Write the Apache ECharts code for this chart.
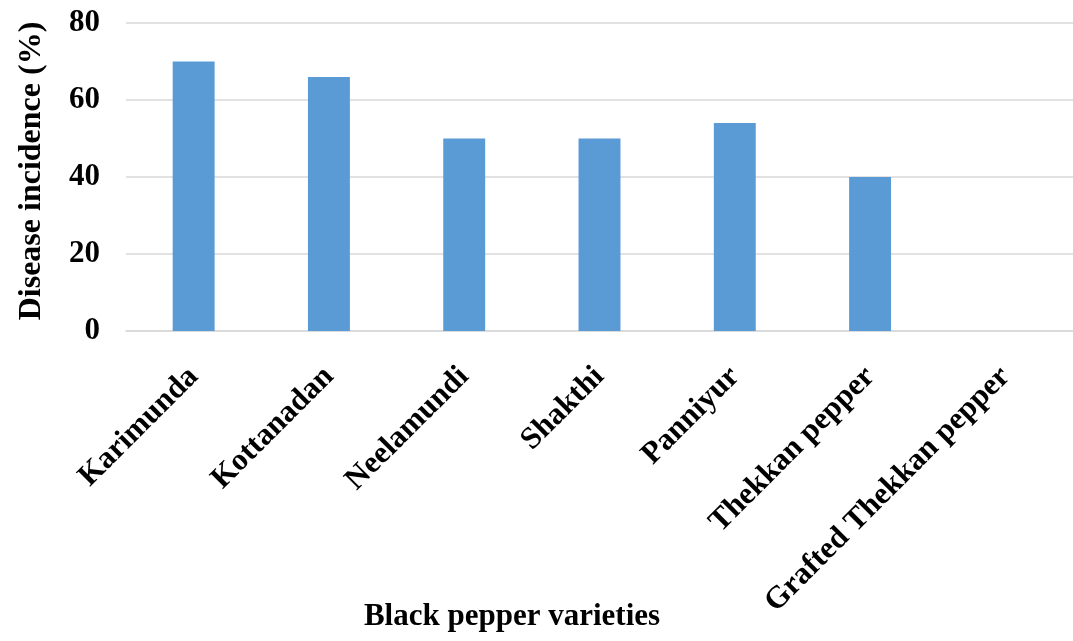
<!DOCTYPE html>
<html>
<head>
<meta charset="utf-8">
<script src="https://cdn.jsdelivr.net/npm/echarts@6/dist/echarts.min.js"></script>
<style>
  html, body { margin: 0; padding: 0; background: #ffffff; }
  #chart { width: 1073px; height: 641px; }
</style>
</head>
<body>
<div id="chart"></div>
<script>
// Disease incidence by black pepper variety
const varieties = ['Karimunda', 'Kottanadan', 'Neelamundi', 'Shakthi', 'Panniyur', 'Thekkan pepper', 'Grafted Thekkan pepper'];
const incidence = [70, 66, 50, 50, 54, 40, 0];
const yTicks = [0, 20, 40, 60, 80];

const FONT = '"Liberation Serif", "Times New Roman", serif';

const chart = echarts.init(document.getElementById('chart'), null, { renderer: 'canvas' });

chart.setOption({
  animation: false,
  backgroundColor: '#ffffff',
  grid: { left: 126, right: -4, top: 23, bottom: 310, containLabel: false },
  xAxis: {
    type: 'category',
    data: varieties,
    axisLine: { show: true, lineStyle: { color: '#d9d9d9', width: 1.5 } },
    axisTick: { show: false },
    axisLabel: {
      interval: 0,
      rotate: 45,
      margin: 41,
      color: '#000000',
      fontFamily: FONT,
      fontWeight: 'bold',
      fontSize: 31
    }
  },
  yAxis: {
    type: 'value',
    min: yTicks[0],
    max: yTicks[yTicks.length - 1],
    interval: 20,
    axisLine: { show: false },
    axisTick: { show: false },
    splitLine: { lineStyle: { color: '#d9d9d9', width: 1.5 } },
    axisLabel: {
      margin: 26,
      color: '#000000',
      fontFamily: FONT,
      fontWeight: 'bold',
      fontSize: 31
    }
  },
  series: [{
    type: 'bar',
    data: incidence,
    barWidth: '31%',
    itemStyle: { color: '#5b9bd5' }
  }],
  graphic: [
    {
      type: 'text',
      x: 512,
      y: 617,
      style: {
        text: 'Black pepper varieties',
        font: 'bold 31px ' + FONT,
        fill: '#000000',
        align: 'center',
        verticalAlign: 'middle'
      }
    },
    {
      type: 'text',
      x: 32,
      y: 171,
      rotation: Math.PI / 2,
      style: {
        text: 'Disease incidence (%)',
        font: 'bold 32px ' + FONT,
        fill: '#000000',
        align: 'center',
        verticalAlign: 'middle'
      }
    }
  ]
});
</script>
</body>
</html>
